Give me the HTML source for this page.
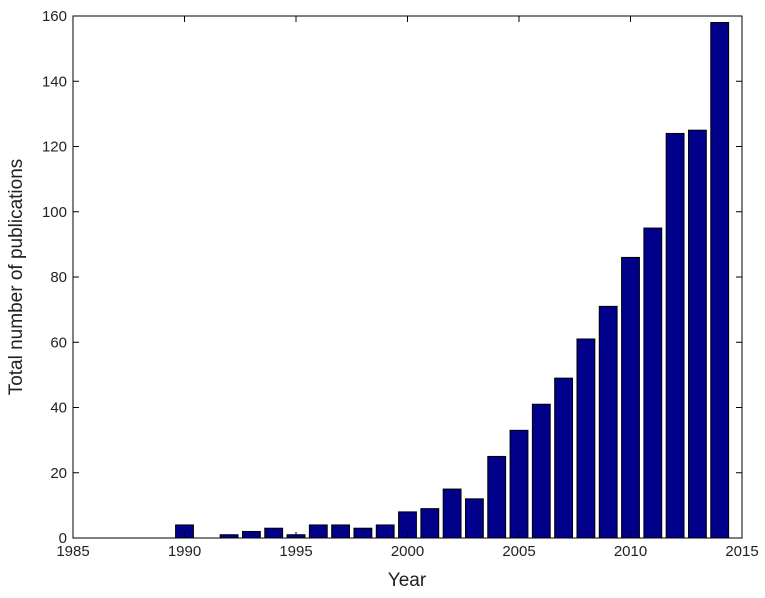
<!DOCTYPE html>
<html><head><meta charset="utf-8"><style>
body{margin:0;background:#fff;}
svg{display:block;font-family:"Liberation Sans",Arial,sans-serif;}
</style></head><body>
<svg id="chart" width="765" height="598" viewBox="0 0 765 598" xmlns="http://www.w3.org/2000/svg">
<rect x="0" y="0" width="765" height="598" fill="#fff"/>
<g id="bars"></g>
<g id="axes"></g>
<text x="407" y="586" font-size="19" text-anchor="middle" fill="#222">Year</text>
<text transform="translate(22,277) rotate(-90)" font-size="19" text-anchor="middle" fill="#222">Total number of publications</text>
</svg>
<script>
const years=[1990,1991,1992,1993,1994,1995,1996,1997,1998,1999,2000,2001,2002,2003,2004,2005,2006,2007,2008,2009,2010,2011,2012,2013,2014];
const counts=[4,0,1,2,3,1,4,4,3,4,8,9,15,12,25,33,41,49,61,71,86,95,124,125,158];
const xTicks=[1985,1990,1995,2000,2005,2010,2015];
const yTicks=[0,20,40,60,80,100,120,140,160];
const L=73,R=742,T=16,B=538;
const x=v=>L+(v-1985)/30*(R-L);
const y=v=>B-v/160*(B-T);
const NS="http://www.w3.org/2000/svg";
const bars=document.getElementById('bars'),axes=document.getElementById('axes');
function mk(t,a,p){const e=document.createElementNS(NS,t);for(const k in a)e.setAttribute(k,a[k]);p.appendChild(e);return e;}
const bw=0.8*(x(1)-x(0));
years.forEach((yr,i)=>{
 if(counts[i]<=0)return;
 const r=mk('rect',{x:x(yr)-bw/2,y:y(counts[i]),width:bw,height:B-y(counts[i]),fill:'#00008b',stroke:'#000','stroke-width':1},bars);
 
 
});
const fr=mk('rect',{x:L,y:T,width:R-L,height:B-T,fill:'none',stroke:'#000','stroke-width':1},axes);


xTicks.forEach(v=>{
 mk('line',{x1:x(v),x2:x(v),y1:B,y2:B-6,stroke:'#000'},axes);
 mk('line',{x1:x(v),x2:x(v),y1:T,y2:T+6,stroke:'#000'},axes);
 const t=mk('text',{x:x(v),y:B+18,'font-size':15,'text-anchor':'middle',fill:'#222'},axes);
 t.textContent=v;
 
 
});
yTicks.forEach(v=>{
 mk('line',{x1:L,x2:L+6,y1:y(v),y2:y(v),stroke:'#000'},axes);
 mk('line',{x1:R,x2:R-6,y1:y(v),y2:y(v),stroke:'#000'},axes);
 const t=mk('text',{x:L-6,y:y(v)+5,'font-size':15,'text-anchor':'end',fill:'#222'},axes);
 t.textContent=v;
 
 
});
</script>
</body></html>
